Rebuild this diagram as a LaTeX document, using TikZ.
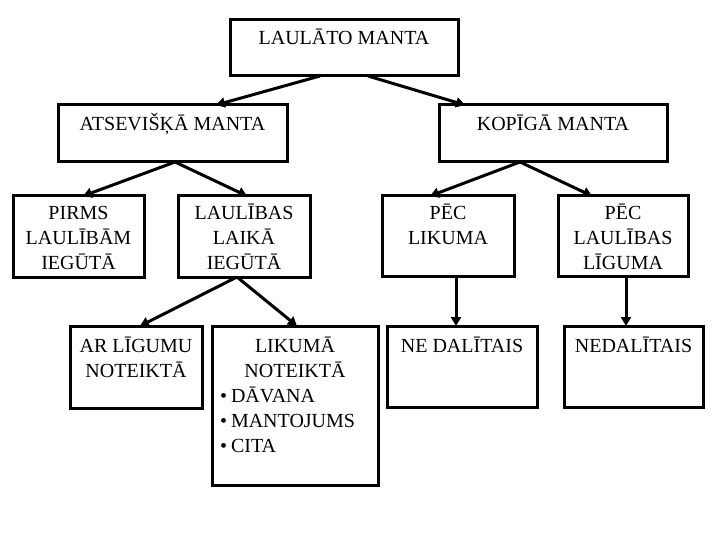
\documentclass[tikz,border=0pt]{standalone}
\usepackage{fontspec}
\setmainfont{Liberation Serif}
\usetikzlibrary{calc,arrows.meta}
\newcommand{\bxt}[4]{\parbox[c][#2][t]{#1}{\fontsize{20}{25}\selectfont\centering\rule{0pt}{#3}#4}}
\tikzset{
  box/.style={draw=black, line width=3pt, inner sep=0pt, outer sep=0pt},
  arr/.style={line width=3pt, -{Triangle[length=9pt,width=10pt]}},
}
\begin{document}
\begin{tikzpicture}[x=1pt,y=-1pt]
\fill[white] (0,0) rectangle (720,540);
\useasboundingbox (0,0) rectangle (720,540);

\node[box] (top)   at (344,48)    {\bxt{228pt}{56pt}{25pt}{LAULĀTO MANTA}};
\node[box] (atsev) at (172.5,133.5) {\bxt{229pt}{57pt}{26pt}{ATSEVIŠĶĀ MANTA}};
\node[box] (kop)   at (553,133.5) {\bxt{228pt}{57pt}{26pt}{KOPĪGĀ MANTA}};

\node[box] (pirms) at (78.5,236.5) {\bxt{131pt}{81pt}{23.5pt}{PIRMS\\LAULĪBĀM\\IEGŪTĀ}};
\node[box] (laik)  at (244,236.5)  {\bxt{132pt}{81pt}{23.5pt}{LAULĪBAS\\LAIKĀ\\IEGŪTĀ}};
\node[box] (peclik) at (448,236)   {\bxt{132pt}{80pt}{23.5pt}{PĒC\\LIKUMA}};
\node[box] (peclig) at (623,236)   {\bxt{130pt}{80pt}{23.5pt}{PĒC\\LAULĪBAS\\LĪGUMA}};

\node[box] (arlig) at (136,367)    {\bxt{132pt}{82pt}{26.5pt}{AR LĪGUMU\\NOTEIKTĀ}};
\node[box] (likn)  at (295,405.5)  {\parbox[c][159pt][t]{166pt}{\fontsize{20}{25}\selectfont\centering\rule{0pt}{26.5pt}LIKUMĀ\\NOTEIKTĀ\par
  \raggedright\hspace*{8pt}\textbullet\hspace{4pt}DĀVANA\\
  \hspace*{8pt}\textbullet\hspace{4pt}MANTOJUMS\\
  \hspace*{8pt}\textbullet\hspace{4pt}CITA\par}};
\node[box] (nedal1) at (462,366.5)  {\bxt{150pt}{81pt}{26.5pt}{NE DALĪTAIS}};
\node[box] (nedal2) at (633.5,366.5) {\bxt{139pt}{81pt}{26.5pt}{NEDALĪTAIS}};

\draw[arr] ($(top.south)+(-24,0)$) -- ($(atsev.north)+(43.5,0)$);
\draw[arr] ($(top.south)+(24,0)$) -- ($(kop.north)+(-88,0)$);
\draw[arr] ($(atsev.south)+(2.5,0)$) -- ($(pirms.north)+(4.5,0)$);
\draw[arr] ($(atsev.south)+(2.5,0)$) -- ($(laik.north)+(3,0)$);
\draw[arr] ($(kop.south)+(-33,0)$) -- ($(peclik.north)+(-18,0)$);
\draw[arr] ($(kop.south)+(-33,0)$) -- ($(peclig.north)+(-31,0)$);
\draw[arr] ($(laik.south)+(-7,0)$) -- ($(arlig.north)+(4,0)$);
\draw[arr] ($(laik.south)+(-7,0)$) -- ($(likn.north)+(2,0)$);
\draw[arr] ($(peclik.south)+(8,0)$) -- ($(nedal1.north)+(-6,0)$);
\draw[arr] ($(peclig.south)+(3,0)$) -- ($(nedal2.north)+(-7.5,0)$);
\end{tikzpicture}
\end{document}
